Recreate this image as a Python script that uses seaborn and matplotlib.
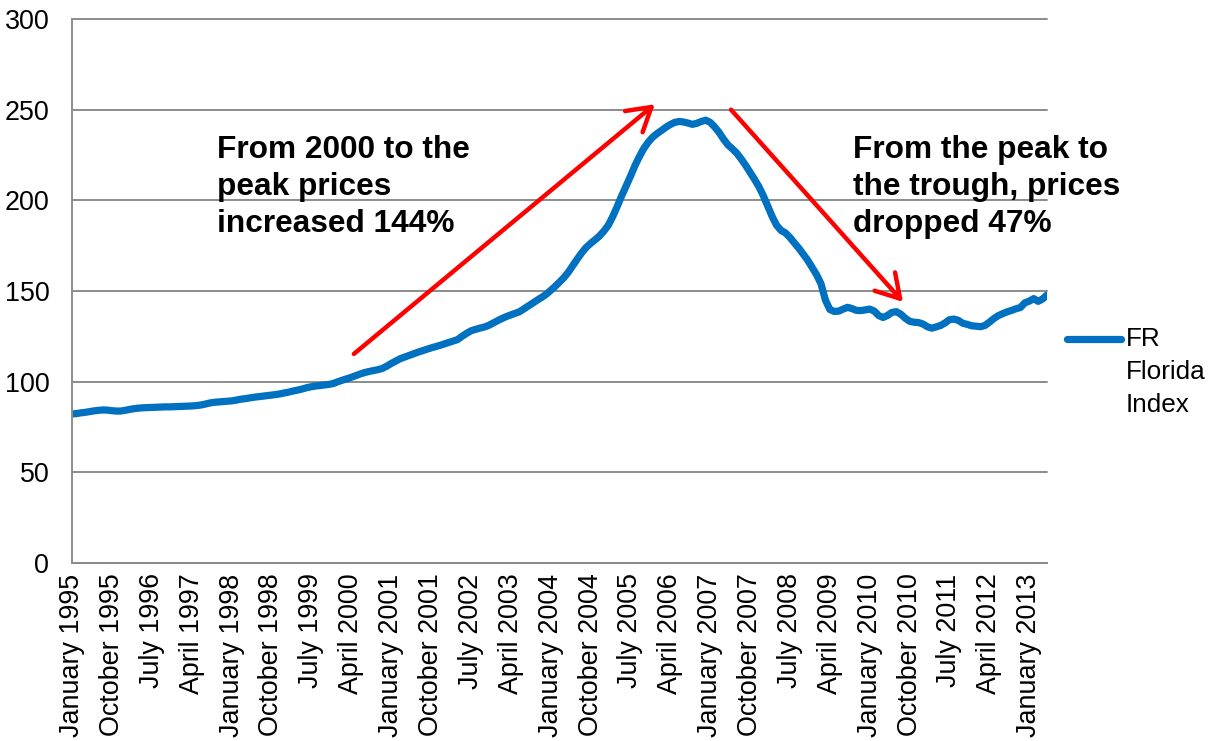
import numpy as np
import pandas as pd
import matplotlib
matplotlib.use("Agg")
import matplotlib.pyplot as plt
import seaborn as sns
from matplotlib.legend_handler import HandlerLine2D

# Monthly FR Florida home price index, January 1995 - May 2013
index_1995 = [82.2, 82.4, 82.8, 83.1, 83.5, 83.9, 84.2, 84.4, 84.3, 84.0, 83.8, 83.8]
index_1996 = [84.2, 84.7, 85.1, 85.4, 85.6, 85.7, 85.8, 85.9, 86.0, 86.1, 86.1, 86.2]
index_1997 = [86.3, 86.4, 86.5, 86.6, 86.8, 87.1, 87.6, 88.2, 88.6, 88.8, 89.0, 89.2]
index_1998 = [89.4, 89.8, 90.3, 90.6, 91.0, 91.4, 91.7, 92.0, 92.3, 92.6, 92.9, 93.3]
index_1999 = [93.8, 94.3, 94.9, 95.4, 96.0, 96.7, 97.2, 97.6, 97.9, 98.2, 98.5, 99.0]
index_2000 = [100.0, 100.8, 101.6, 102.4, 103.3, 104.2, 105.0, 105.6, 106.1, 106.6, 107.3, 108.5]
index_2001 = [110.0, 111.3, 112.6, 113.5, 114.4, 115.3, 116.2, 117.0, 117.8, 118.6, 119.3, 120.0]
index_2002 = [120.8, 121.6, 122.4, 123.2, 125.0, 126.6, 128.0, 128.8, 129.5, 130.1, 131.0, 132.3]
index_2003 = [133.6, 134.8, 135.9, 136.8, 137.7, 138.6, 140.2, 141.8, 143.4, 145.0, 146.5, 148.2]
index_2004 = [150.3, 152.5, 154.9, 157.4, 160.4, 164.0, 167.6, 171.0, 174.0, 176.2, 178.2, 180.3]
index_2005 = [183.0, 186.2, 191.0, 196.5, 202.3, 207.8, 213.2, 219.0, 224.0, 228.5, 232.0, 234.8]
index_2006 = [236.8, 238.5, 240.3, 241.8, 243.0, 243.5, 243.2, 242.6, 241.9, 242.5, 243.5, 244.2]
index_2007 = [243.0, 240.5, 237.5, 233.8, 230.6, 228.4, 226.0, 222.8, 219.3, 215.5, 211.6, 207.5]
index_2008 = [202.5, 196.8, 191.0, 186.2, 183.4, 182.0, 179.5, 176.5, 173.6, 170.3, 167.0, 163.0]
index_2009 = [159.0, 154.0, 145.0, 139.8, 138.7, 138.9, 140.0, 141.0, 140.3, 139.3, 139.2, 139.6]
index_2010 = [140.0, 139.0, 136.5, 135.4, 136.5, 138.2, 138.6, 137.2, 135.0, 133.3, 132.8, 132.6]
index_2011 = [131.8, 130.3, 129.5, 130.2, 131.0, 132.4, 134.2, 134.5, 133.8, 132.2, 131.6, 130.8]
index_2012 = [130.6, 130.3, 131.0, 132.8, 134.8, 136.4, 137.5, 138.5, 139.3, 140.2, 140.9, 143.5]
index_2013 = [144.4, 145.8, 144.3, 145.6, 147.8]

tick_labels = [
    "January 1995", "October 1995", "July 1996", "April 1997", "January 1998",
    "October 1998", "July 1999", "April 2000", "January 2001", "October 2001",
    "July 2002", "April 2003", "January 2004", "October 2004", "July 2005",
    "April 2006", "January 2007", "October 2007", "July 2008", "April 2009",
    "January 2010", "October 2010", "July 2011", "April 2012", "January 2013",
]
series_name = "FR\nFlorida\nIndex"
rise_note = "From 2000 to the\npeak prices\nincreased 144%"
drop_note = "From the peak to\nthe trough, prices\ndropped 47%"

values = (index_1995 + index_1996 + index_1997 + index_1998 + index_1999 +
          index_2000 + index_2001 + index_2002 + index_2003 + index_2004 +
          index_2005 + index_2006 + index_2007 + index_2008 + index_2009 +
          index_2010 + index_2011 + index_2012 + index_2013)
df = pd.DataFrame({"month": np.arange(len(values)), "index": values})

sns.set_style("white")
plt.rcParams["font.family"] = ["Liberation Sans", "DejaVu Sans"]
plt.rcParams["text.color"] = "black"
plt.rcParams["xtick.color"] = "black"
plt.rcParams["ytick.color"] = "black"

GRID = "#8c8c8c"
BLUE = "#0070C0"
RED = "#FF0000"
TICK_FS = 19.4
NOTE_FS = 22.8
LEGEND_FS = 18.8
LEGEND_SPACING = 1.45

fig = plt.figure(figsize=(12.14, 7.41), dpi=100)
ax = fig.add_axes([72 / 1214, 1 - 563 / 741, (1047 - 72) / 1214, (563 - 19) / 741])

sns.lineplot(data=df, x="month", y="index", ax=ax, color=BLUE, linewidth=5.2,
             label=series_name, solid_capstyle="round", solid_joinstyle="round")

ax.set_xlim(0, len(values) - 1)
ax.set_ylim(0, 300)
ax.set_yticks(np.arange(0, 301, 50))
ax.set_xticks(np.arange(0, len(values), 9))
ax.set_xticklabels(tick_labels, rotation=90, fontsize=TICK_FS)
ax.tick_params(axis="y", labelsize=TICK_FS, length=5.8, width=1.3, color=GRID,
               pad=10.5, labelcolor="black")
ax.tick_params(axis="x", length=5.0, width=1.3, color=GRID, pad=2.5,
               labelcolor="black")
ax.set_xlabel("")
ax.set_ylabel("")

ax.yaxis.grid(True, color=GRID, linewidth=1.4)
ax.xaxis.grid(False)
for side in ("top", "right"):
    ax.spines[side].set_visible(False)
for side in ("left", "bottom"):
    ax.spines[side].set_color(GRID)
    ax.spines[side].set_linewidth(1.4)
for gl in ax.get_ygridlines():
    gl.set_clip_on(False)

# Trend arrows and notes
arrow_kw = dict(arrowstyle="->,head_length=0.75,head_width=0.45", color=RED,
                lw=3.2, mutation_scale=22, shrinkA=0, shrinkB=0)
ax.annotate("", xy=(131.5, 253.0), xytext=(63.6, 115.3), arrowprops=arrow_kw)
ax.annotate("", xy=(187.5, 144.0), xytext=(148.7, 250.0), arrowprops=arrow_kw)

ax.text(32.7, 236.0, rise_note, fontsize=NOTE_FS, fontweight="bold", va="top",
        ha="left", linespacing=1.31, color="black")
ax.text(176.2, 236.0, drop_note, fontsize=NOTE_FS, fontweight="bold", va="top",
        ha="left", linespacing=1.31, color="black")


class FirstLineHandler(HandlerLine2D):
    """Places the legend line level with the first line of a multi-line label."""

    def __init__(self, lift, **kw):
        super().__init__(**kw)
        self.lift = lift

    def create_artists(self, legend, orig_handle, xdescent, ydescent, width,
                       height, fontsize, trans):
        return super().create_artists(legend, orig_handle, xdescent,
                                      ydescent - 2 * self.lift, width, height,
                                      fontsize, trans)


handles, labels = ax.get_legend_handles_labels()
if ax.get_legend():
    ax.get_legend().remove()
leg = fig.legend(handles, labels, loc="center left",
                 bbox_to_anchor=(1067 / 1214, 1 - 372 / 741),
                 bbox_transform=fig.transFigure, frameon=False,
                 prop={"size": LEGEND_FS},
                 handlelength=2.05, handletextpad=0.2, borderpad=0,
                 borderaxespad=0, labelspacing=0,
                 handler_map={handles[0]: FirstLineHandler(lift=24.0)})
for text in leg.get_texts():
    text.set_linespacing(LEGEND_SPACING)
    text.set_color("black")
for line in leg.get_lines():
    line.set_linewidth(5.2)
    line.set_solid_capstyle("round")

fig.savefig("out.png", dpi=100)
